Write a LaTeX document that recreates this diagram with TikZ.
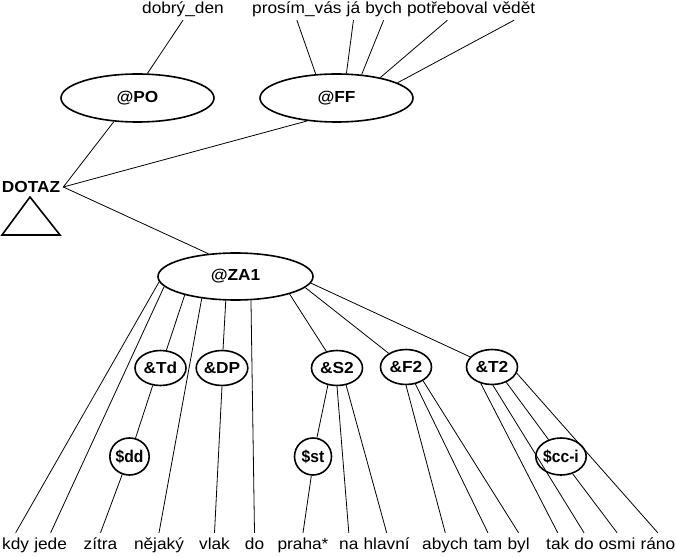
\documentclass[tikz,border=0pt]{standalone}
\usepackage{fontspec}
\setmainfont[FakeStretch=1.08]{Liberation Sans}
\newfontfamily\cfont[FakeStretch=0.92]{Liberation Sans}
\usetikzlibrary{shapes.geometric}
\begin{document}
\begin{tikzpicture}[x=1pt,y=-1pt,
  link/.style={line width=0.8pt},
  bigell/.style={draw, ellipse, line width=1.6pt, minimum width=153pt, minimum height=48pt, inner sep=0pt, font=\fontsize{16}{18}\selectfont\bfseries},
  midell/.style={draw, ellipse, line width=1.6pt, minimum width=51pt, minimum height=35pt, inner sep=0pt, font=\fontsize{16}{18}\selectfont\bfseries},
  smallcirc/.style={draw, ellipse, line width=1.6pt, minimum width=37pt, minimum height=37pt, inner sep=0pt, font=\fontsize{17}{18}\cfont\bfseries},
  botword/.style={anchor=base, inner xsep=0pt, inner ysep=5pt, text height=11pt, text depth=3pt, font=\fontsize{16}{18}\selectfont},
  topword/.style={anchor=base, inner xsep=0pt, inner ysep=3pt, text height=11pt, text depth=3pt, font=\fontsize{16}{18}\selectfont},
  nextw/.style={anchor=base west}
]
\useasboundingbox (0,0) rectangle (676,556);
\def\wsp{4.8pt}

% top words
\node[topword] (dobry) at (183,14) {dobrý\_den};
\node[topword, nextw] (prosim) at (252,14) {prosím\_vás};
\node[topword, nextw] (ja) at ([xshift=\wsp]prosim.base east) {já};
\node[topword, nextw] (bych) at ([xshift=\wsp]ja.base east) {bych};
\node[topword, nextw] (potreboval) at ([xshift=\wsp]bych.base east) {potřeboval};
\node[topword, nextw] (vedet) at ([xshift=\wsp]potreboval.base east) {vědět};

% upper ellipses
\node[bigell] (PO) at (137.5,98) {@PO};
\node[bigell] (FF) at (336.5,98) {@FF};

% DOTAZ
\node[inner xsep=3pt, inner ysep=0pt, font=\fontsize{16}{18}\selectfont\bfseries] (DOTAZ) at (31,187) {DOTAZ};
\draw[line width=1.6pt, line join=miter] (30,197) -- (60,235) -- (2,235) -- cycle;

% ZA1
\node[bigell, minimum width=155pt, minimum height=47pt] (ZA1) at (235.5,276.5) {@ZA1};

% middle nodes
\node[midell] (Td) at (160.5,368) {\&Td};
\node[midell] (DP) at (222,368) {\&DP};
\node[midell] (S2) at (337,368) {\&S2};
\node[midell] (F2) at (406,367) {\&F2};
\node[midell] (T2) at (492,367) {\&T2};

% small circles
\node[smallcirc] (dd) at (129.5,456.5) {\$dd};
\node[smallcirc] (st) at (313,456.5) {\$st};
\node[smallcirc] (cci) at (561,456.5) {\$cc-i};

% bottom words
\node[botword, nextw] (kdy) at (2,549) {kdy};
\node[botword, nextw] (jede) at ([xshift=\wsp]kdy.base east) {jede};
\node[botword] (zitra) at (100.5,549) {zítra};
\node[botword] (nejaky) at (159,549) {nějaký};
\node[botword] (vlak) at (214.5,549) {vlak};
\node[botword] (doA) at (254.5,549) {do};
\node[botword] (praha) at (303,549) {praha*};
\node[botword, nextw] (na) at (339,549) {na};
\node[botword, nextw] (hlavni) at ([xshift=\wsp]na.base east) {hlavní};
\node[botword, nextw] (abych) at (422,549) {abych};
\node[botword, nextw] (tam) at ([xshift=\wsp]abych.base east) {tam};
\node[botword, nextw] (byl) at ([xshift=\wsp]tam.base east) {byl};
\node[botword, nextw] (tak) at (546,549) {tak};
\node[botword, nextw] (doB) at ([xshift=\wsp]tak.base east) {do};
\node[botword, nextw] (osmi) at ([xshift=\wsp]doB.base east) {osmi};
\node[botword, nextw] (rano) at ([xshift=\wsp]osmi.base east) {ráno};

% connectors top
\draw[link] (dobry.south) -- (PO.68);
\draw[link] (prosim.south) -- (FF.131);
\draw[link] (ja.south) -- (FF.68);
\draw[link] (bych.south) -- (FF.43);
\draw[link] (potreboval.south) -- (FF.25);
\draw[link] (vedet.south) -- (FF.14);

% DOTAZ connectors
\draw[link] (DOTAZ.east) -- (PO.225);
\draw[link] (DOTAZ.east) -- (FF.218);
\draw[link] (DOTAZ.east) -- (ZA1.140);

% ZA1 children
\draw[link] (ZA1.184) -- (kdy.north);
\draw[link] (ZA1.188.5) -- (jede.north);
\draw[link] (ZA1.200) -- (Td);
\draw[link] (ZA1.213.5) -- (nejaky.north);
\draw[link] (ZA1.248) -- (DP);
\draw[link] (ZA1.303) -- (doA.north);
\draw[link] (ZA1.342) -- (S2);
\draw[link] (ZA1.351) -- (F2);
\draw[link] (ZA1.355) -- (T2);

% lower connectors
\draw[link] (Td.246) -- (dd);
\draw[link] (dd.248) -- (zitra.north);
\draw[link] (DP.270) -- (vlak.north);
\draw[link] (S2.242) -- (st);
\draw[link] (st.265) -- (praha.north);
\draw[link] (S2.270) -- (na.north);
\draw[link] (S2.298) -- (hlavni.north);
\draw[link] (F2.270) -- (abych.north);
\draw[link] (F2.299) -- (tam.north);
\draw[link] (F2.321) -- (byl.north);
\draw[link] (T2.236) -- (tak.north);
\draw[link] (T2.273) -- (doB.north);
\draw[link] (T2.313) -- (cci);
\draw[link] (T2.346) -- (rano.north);
\draw[link] (cci.304) -- (osmi.north);
\end{tikzpicture}
\end{document}
